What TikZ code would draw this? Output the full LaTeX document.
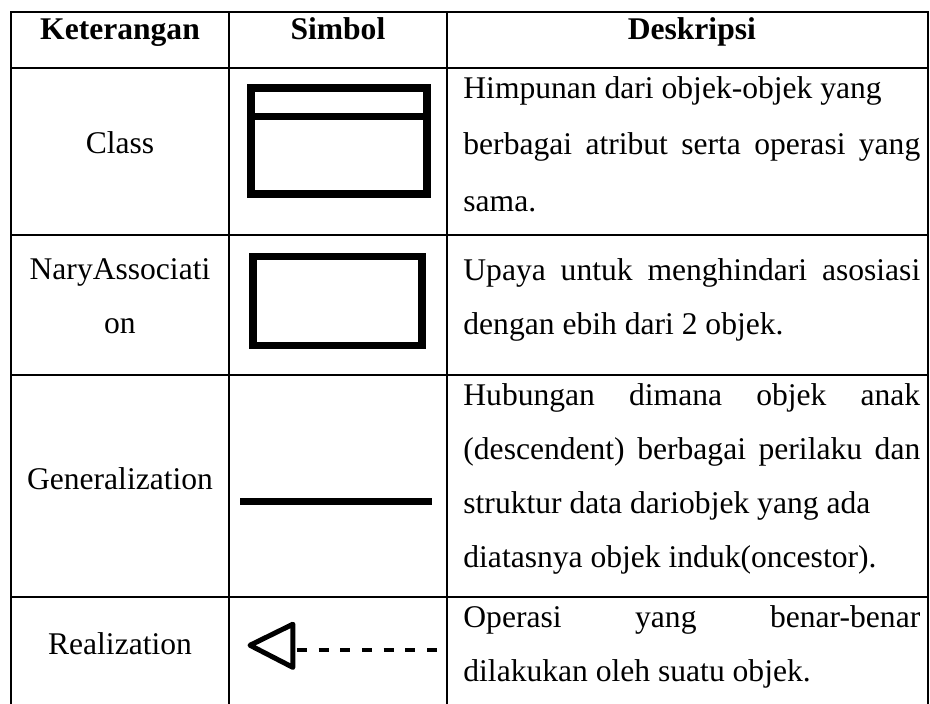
\documentclass[tikz,border=0pt]{standalone}
\usepackage{fontspec}
\setmainfont{Liberation Serif}
\usetikzlibrary{positioning}

\begin{document}
\begin{tikzpicture}[
node distance=0pt,
cell/.style={draw,
rectangle,
line width=0.7pt,
inner sep=0pt,
outer sep=0pt,
minimum width=82.8pt},
wide/.style={cell, minimum width=182.8pt},
kop/.style={anchor=base, inner sep=0pt, font=\fontsize{12pt}{20.5pt}\selectfont\bfseries},
isi/.style={anchor=base, align=center, inner sep=0pt, font=\fontsize{12pt}{20.5pt}\selectfont},
desc/.style={anchor=base west,
inner sep=0pt,
text width=173.6pt,
align=justify,
font=\fontsize{12pt}{20.5pt}\selectfont,
execute at begin node={\tolerance=10000\relax\hyphenpenalty=10000\relax}},
simbol/.style={draw, line width=2.9pt, inner sep=0pt}
]

\useasboundingbox (0,0) rectangle (353.4pt,-267.5pt);
\clip (0,0) rectangle (353.4pt,-267.5pt);

\node[cell, minimum height=21.3pt, anchor=north west] (hket) at (4.2pt,-4.6pt) {};
\node[cell, minimum height=21.3pt, right=of hket] (hsim) {};
\node[wide, minimum height=21.3pt, right=of hsim] (hdes) {};

\node[cell, minimum height=63.5pt, below=of hket] (ket1) {};
\node[cell, minimum height=63.5pt, below=of hsim] (sim1) {};
\node[wide, minimum height=63.5pt, below=of hdes] (des1) {};

\node[cell, minimum height=53.2pt, below=of ket1] (ket2) {};
\node[cell, minimum height=53.2pt, below=of sim1] (sim2) {};
\node[wide, minimum height=53.2pt, below=of des1] (des2) {};

\node[cell, minimum height=84.4pt, below=of ket2] (ket3) {};
\node[cell, minimum height=84.4pt, below=of sim2] (sim3) {};
\node[wide, minimum height=84.4pt, below=of des2] (des3) {};

\node[cell, minimum height=41.4pt, below=of ket3] (ket4) {};
\node[cell, minimum height=41.4pt, below=of sim3] (sim4) {};
\node[wide, minimum height=41.4pt, below=of des3] (des4) {};

\node[kop] (tket) at ([yshift=-10.6pt]hket.north) {Keterangan};
\node[kop] (tsim) at ([yshift=-10.6pt]hsim.north) {Simbol};
\node[kop] (tdes) at ([xshift=1.7pt, yshift=-10.6pt]hdes.north) {Deskripsi};

\node[isi] (tket1) at ([yshift=-32.3pt]ket1.north) {Class};
\node[isi] (tket2) at ([yshift=-37.2pt]ket2.north) {NaryAssociati\\on};
\node[isi] (tket3) at ([yshift=-43.3pt]ket3.north) {Generalization};
\node[isi] (tket4) at ([yshift=-21.7pt]ket4.north) {Realization};

\node[desc, font=\fontsize{12pt}{21.6pt}\selectfont] (tdes1) at ([xshift=6.1pt, yshift=-11.4pt]des1.north west) {Himpunan dari objek-objek yang\\ berbagai atribut serta operasi yang\linebreak sama.};
\node[desc] (tdes2) at ([xshift=6.1pt, yshift=-17.1pt]des2.north west) {Upaya untuk menghindari asosiasi\linebreak dengan ebih dari 2 objek.};
\node[desc] (tdes3) at ([xshift=6.1pt, yshift=-11.4pt]des3.north west) {Hubungan dimana objek anak\linebreak (descendent) berbagai perilaku dan\linebreak struktur data dariobjek yang ada\\ diatasnya objek induk(oncestor).};
\node[desc] (tdes4) at ([xshift=6.1pt, yshift=-11.4pt]des4.north west) {Operasi yang benar-benar\linebreak dilakukan oleh suatu objek.};

\node[simbol, minimum width=66.9pt, minimum height=40.3pt] (class) at ([xshift=0.4pt, yshift=4pt]sim1.center) {};
\draw[line width=2.9pt] ([yshift=-12.2pt]class.north west) -- ([yshift=-12.2pt]class.north east);

\node[simbol, minimum width=64.2pt, minimum height=33.8pt] (nary) at ([xshift=-0.2pt, yshift=1.6pt]sim2.center) {};

\draw[line width=2.9pt] ([xshift=-37.2pt, yshift=-5.8pt]sim3.center) -- ([xshift=35.7pt, yshift=-5.8pt]sim3.center);

\draw[line width=1.9pt, line join=round] ([xshift=-33.4pt, yshift=2.5pt]sim4.center) -- ([xshift=-17.1pt, yshift=10.5pt]sim4.center) -- ([xshift=-17.1pt, yshift=-5.9pt]sim4.center) -- cycle;
\draw[line width=1.5pt, dash pattern=on 3.8pt off 4.45pt] ([xshift=-15.6pt, yshift=0.8pt]sim4.center) -- ([xshift=37.6pt, yshift=0.8pt]sim4.center);

\end{tikzpicture}
\end{document}
